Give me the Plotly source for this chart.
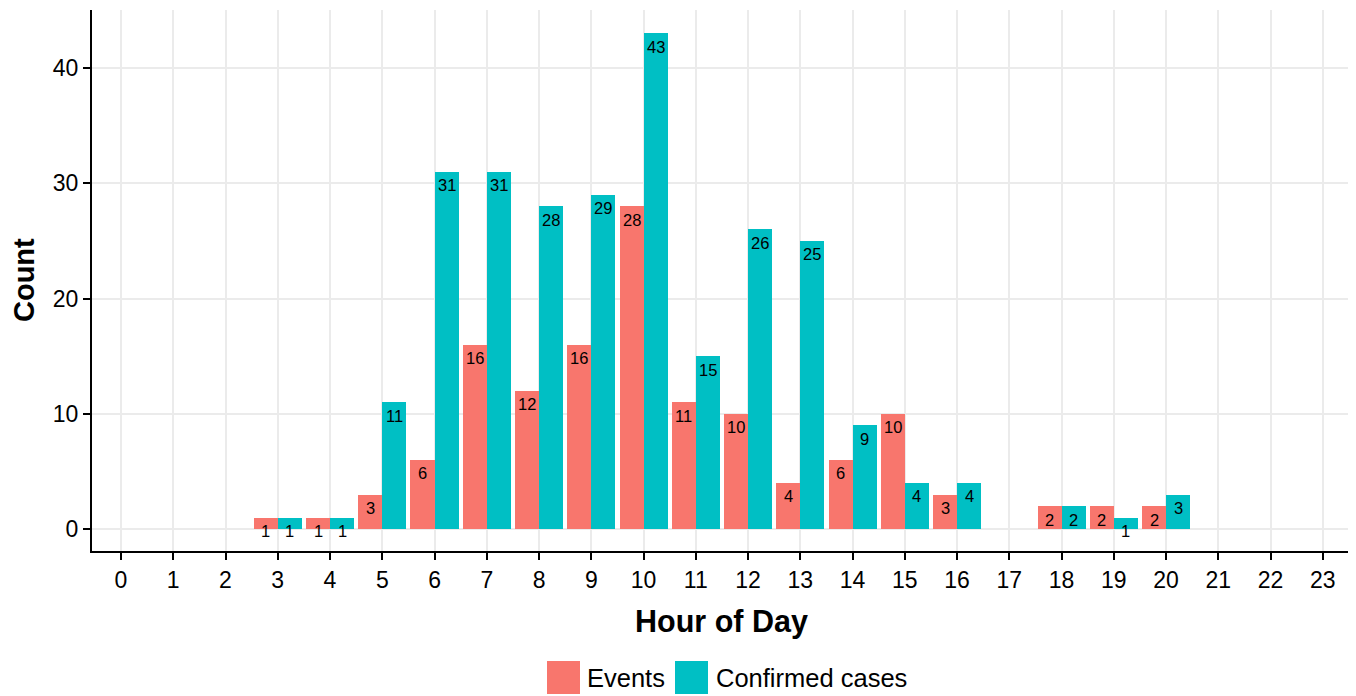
import plotly.graph_objects as go

hours = list(range(24))
event_hours = [3, 4, 5, 6, 7, 8, 9, 10, 11, 12, 13, 14, 15, 16, 18, 19, 20]
events = [1, 1, 3, 6, 16, 12, 16, 28, 11, 10, 4, 6, 10, 3, 2, 2, 2]
case_hours = [3, 4, 5, 6, 7, 8, 9, 10, 11, 12, 13, 14, 15, 16, 18, 19, 20]
cases = [1, 1, 11, 31, 31, 28, 29, 43, 15, 26, 25, 9, 4, 4, 2, 1, 3]
y_ticks = [0, 10, 20, 30, 40]
series_names = ["Events", "Confirmed cases"]

RED = "#F8766D"
TEAL = "#00BFC4"
FONT = "Liberation Sans, Arial, Helvetica, sans-serif"
W = 0.46  # width of each dodged bar

# page has an 8px body margin; size the figure so it fits the window
OFF = 8
FW, FH = 1356 - OFF, 696 - OFF
L, R, T, B = 84, 6, 2, 145
PW, PH = FW - L - R, FH - T - B


def px_x(p):
    return (p - OFF - L) / PW


def px_y(p):
    return (FH - B - (p - OFF)) / PH


fig = go.Figure()
fig.add_trace(go.Bar(x=[h - W / 2 for h in event_hours], y=events, width=W,
                     marker=dict(color=RED, line=dict(width=0)), name=series_names[0],
                     showlegend=False))
fig.add_trace(go.Bar(x=[h + W / 2 for h in case_hours], y=cases, width=W,
                     marker=dict(color=TEAL, line=dict(width=0)), name=series_names[1],
                     showlegend=False))

annotations = []
for hs, vals, sgn in [(event_hours, events, -1), (case_hours, cases, 1)]:
    for h, v in zip(hs, vals):
        annotations.append(dict(x=h + sgn * W / 2, y=v, xref="x", yref="y", text=str(v),
                                showarrow=False, yanchor="middle", xanchor="center",
                                yshift=-13.5, font=dict(size=16.5, color="black", family=FONT)))

# axis titles
annotations.append(dict(x=px_x(721), y=px_y(621), xref="paper", yref="paper",
                        text="<b>Hour of Day</b>", showarrow=False, xanchor="center",
                        yanchor="middle", font=dict(size=30.5, color="black", family=FONT)))
annotations.append(dict(x=px_x(24), y=px_y(280), xref="paper", yref="paper",
                        text="<b>Count</b>", showarrow=False, xanchor="center", textangle=-90,
                        yanchor="middle", borderpad=0,
                        font=dict(size=29, color="black", family=FONT)))

# custom legend (large ggplot-style keys)
shapes = []
legend_items = [(547, RED, series_names[0], 585), (675, TEAL, series_names[1], 714)]
for x0, col, name, tx in legend_items:
    shapes.append(dict(type="rect", xref="paper", yref="paper",
                       x0=px_x(x0), x1=px_x(x0 + 33), y0=px_y(694), y1=px_y(661),
                       fillcolor=col, line=dict(width=0)))
    annotations.append(dict(x=px_x(tx), y=px_y(678), xref="paper", yref="paper",
                            text=name, showarrow=False, xanchor="left", yanchor="middle",
                            font=dict(size=25.5, color="black", family=FONT)))

fig.update_layout(
    width=FW, height=FH,
    margin=dict(l=L, r=R, t=T, b=B, autoexpand=False),
    plot_bgcolor="white", paper_bgcolor="white",
    barmode="overlay", bargap=0,
    font=dict(family=FONT, size=23, color="black"),
    showlegend=False,
    annotations=annotations,
    shapes=shapes,
    xaxis=dict(
        range=[-0.555, 23.52], tickmode="array", tickvals=hours,
        ticktext=[str(h) for h in hours], automargin=False,
        showgrid=True, gridcolor="#ebebeb", gridwidth=1.5,
        showline=True, linecolor="black", linewidth=2,
        ticks="outside", ticklen=7, tickcolor="black", tickwidth=1.5,
        tickfont=dict(size=23), zeroline=False,
    ),
    yaxis=dict(
        range=[-1.9, 45.03], tickmode="array", tickvals=y_ticks, automargin=False,
        showgrid=True, gridcolor="#ebebeb", gridwidth=1.5,
        showline=True, linecolor="black", linewidth=2,
        ticks="outside", ticklen=7, tickcolor="black", tickwidth=1.5,
        tickfont=dict(size=23), zeroline=False,
    ),
)

fig.write_html("out.html")
